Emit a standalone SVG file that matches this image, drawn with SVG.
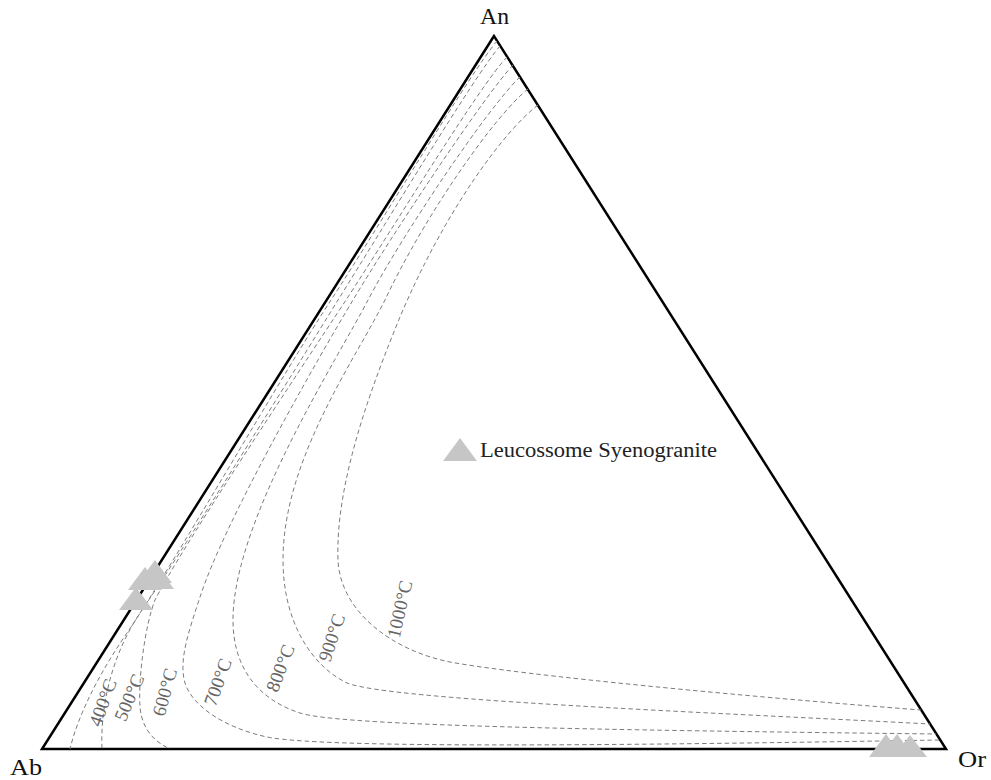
<svg xmlns="http://www.w3.org/2000/svg" width="991" height="780" viewBox="0 0 991 780">
<style>
.frame{fill:none;stroke:#000;stroke-width:2.5;stroke-linejoin:miter}
.iso{fill:none;stroke:#7c7c7c;stroke-width:1;stroke-dasharray:4.5 3}
.vlab{font-family:"Liberation Serif","Times New Roman",serif;font-size:24px;fill:#111}
.tlab{font-family:"Liberation Serif","Times New Roman",serif;font-size:19px;fill:#666;text-anchor:middle}
.leg{font-family:"Liberation Serif","Times New Roman",serif;font-size:20px;fill:#222}
.mk{fill:#c6c6c6}
</style>
<rect width="991" height="780" fill="#fff"/>
<g id="frame">
<polygon class="frame" points="494,36 42,749 946,749"/>
</g>
<g id="isotherms">
<path id="t400" class="iso" d="M497,41 C472,70 380,225 331,300 C285,370 170,570 127,633 C100,672 78,715 70,749"/>
<path id="t500" class="iso" d="M500,46 C475,75 385,225 338,300 C295,370 180,555 140,613 C115,650 100,700 102,749"/>
<path id="t600" class="iso" d="M507,57 C480,85 395,225 346,300 C300,370 180,550 155,600 C145,625 138,680 140,707 C142,730 155,742 170,749"/>
<path id="t700" class="iso" d="M513,65 C485,95 395,230 353,300 C320,355 225,520 200,597 C190,628 178,660 185,683 C192,706 225,728 267,737 C330,750 700,744 940,740"/>
<path id="t800" class="iso" d="M520,77 C490,105 405,230 368,300 C340,355 233,520 233,620 C233,670 260,700 300,713 C340,726 600,730 936,734"/>
<path id="t900" class="iso" d="M528,89 C495,115 425,215 385,300 C355,360 283,460 283,560 C283,620 310,665 347,683 C390,700 700,712 930,724"/>
<path id="t1000" class="iso" d="M538,105 C505,130 445,210 400,317 C375,378 335,480 338,560 C340,610 390,650 450,662 C520,675 750,697 921,710"/>
</g>
<g id="temperature-labels">
<text class="tlab" transform="translate(102.5,702.5) rotate(-70)" dy="0.35em">400°C</text>
<text class="tlab" transform="translate(129,697.5) rotate(-67)" dy="0.35em">500°C</text>
<text class="tlab" transform="translate(164.5,692) rotate(-75)" dy="0.35em">600°C</text>
<text class="tlab" transform="translate(217.5,682) rotate(-70)" dy="0.35em">700°C</text>
<text class="tlab" transform="translate(280,668) rotate(-69)" dy="0.35em">800°C</text>
<text class="tlab" transform="translate(331.5,637.5) rotate(-72)" dy="0.35em">900°C</text>
<text class="tlab" transform="translate(399.5,609) rotate(-77)" dy="0.35em">1000°C</text>
</g>
<g id="vertex-An"><text class="vlab" x="480" y="24" textLength="29" lengthAdjust="spacingAndGlyphs">An</text></g>
<g id="vertex-Ab"><text class="vlab" x="10" y="775" textLength="32" lengthAdjust="spacingAndGlyphs">Ab</text></g>
<g id="vertex-Or"><text class="vlab" x="958" y="767" textLength="28" lengthAdjust="spacingAndGlyphs">Or</text></g>
<g id="samples-left">
<polygon class="mk" points="155,560 138,583 172,583"/>
<polygon class="mk" points="157,566 140,589 174,589"/>
<polygon class="mk" points="145,567 128,590 162,590"/>
<polygon class="mk" points="136,587 119,610 153,610"/>
</g>
<g id="samples-Or">
<polygon class="mk" points="886,734 869,757 903,757"/>
<polygon class="mk" points="897,734 880,757 914,757"/>
<polygon class="mk" points="910,735 893,757 927,757"/>
</g>
<g id="legend">
<polygon class="mk" points="460,438 443,461 477,461"/>
<text class="leg" x="480" y="457" textLength="237" lengthAdjust="spacingAndGlyphs">Leucossome Syenogranite</text>
</g>
</svg>
